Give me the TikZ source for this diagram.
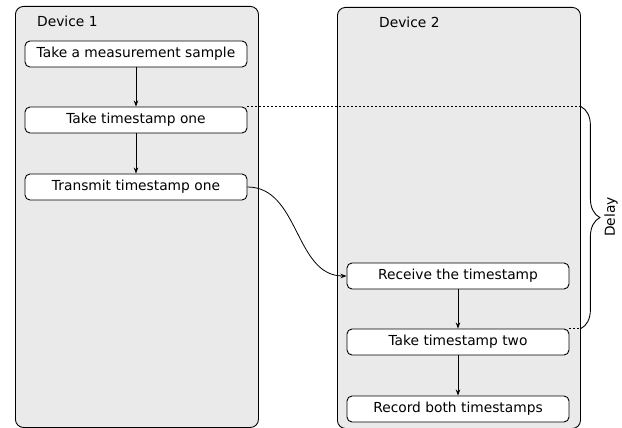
\documentclass[tikz,border=0pt]{standalone}
\usepackage{fontspec}
\setmainfont{DejaVu Sans}
\usetikzlibrary{arrows.meta,decorations.pathreplacing,calc}
\definecolor{panelgray}{RGB}{234,234,234}
\tikzset{
  txt/.style={font=\fontsize{13.8}{16}\selectfont},
  panel/.style={draw=black, line width=0.9pt, fill=panelgray, rounded corners=8pt,
    rectangle, anchor=north west, minimum width=243pt, minimum height=421pt, inner sep=0pt},
  paneltitle/.style={txt, anchor=west, inner sep=0pt},
  stepbox/.style={txt, draw=black, line width=0.9pt, fill=white, rounded corners=5pt,
    rectangle, minimum width=222pt, minimum height=26pt, inner sep=0pt},
  flow/.style={line width=0.8pt, -{Stealth[length=6pt,width=4.5pt]}},
  marker/.style={line width=1.1pt, dash pattern=on 2pt off 2pt},
}
\begin{document}
\begin{tikzpicture}[x=1pt,y=-1pt]
  \useasboundingbox (0,0) rectangle (622,428);

  % the two devices
  \node[panel] (dev1) at (15,6) {};
  \node[panel] (dev2) at (337,7) {};
  \node[paneltitle] (dev1title) at (37,21) {Device 1};
  \node[paneltitle] (dev2title) at (379,22) {Device 2};

  % steps on device 1
  \node[stepbox] (sample) at (136,54)  {Take a measurement sample};
  \node[stepbox] (ts1)    at (136,120) {Take timestamp one};
  \node[stepbox] (tx)     at (136,187) {Transmit timestamp one};

  % steps on device 2
  \node[stepbox] (rx)     at (458,276) {Receive the timestamp};
  \node[stepbox] (ts2)    at (458,342) {Take timestamp two};
  \node[stepbox] (rec)    at (458,409) {Record both timestamps};

  \draw[flow] (sample) -- (ts1);
  \draw[flow] (ts1) -- (tx);
  \draw[flow] (rx) -- (ts2);
  \draw[flow] (ts2) -- (rec);
  \draw[flow] (tx.east) to[out=0,in=180] (rx.west);

  % delay between the two timestamps
  \coordinate (brtop) at (dev2.east |- ts1.north);
  \coordinate (brbot) at (dev2.east |- ts2.north);
  \draw[marker] (ts1.north east) -- (brtop);
  \draw[marker] (ts2.north east) -- (brbot);
  \draw[line width=0.9pt, decorate, decoration={brace, amplitude=19pt}]
    (brtop) -- (brbot);
  \node[txt, rotate=90, inner sep=0pt] (delay) at (611,217) {Delay};
\end{tikzpicture}
\end{document}
